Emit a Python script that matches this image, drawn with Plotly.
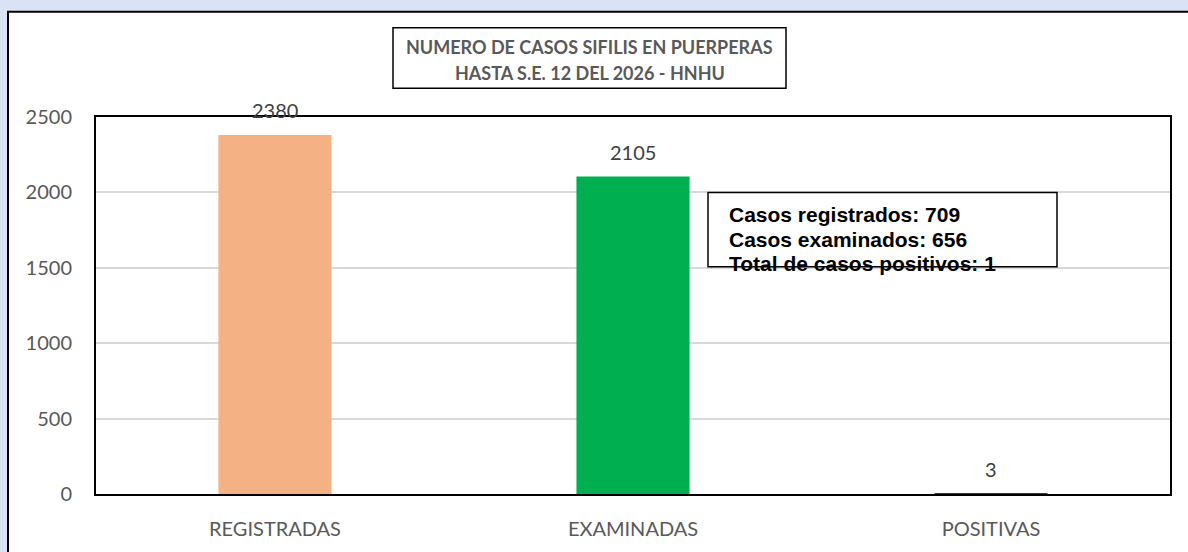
import plotly.graph_objects as go

categories = ["REGISTRADAS", "EXAMINADAS", "POSITIVAS"]
values = [2380, 2105, 3]
bar_colors = ["#F4B183", "#00B050", "#C00000"]
y_ticks = [0, 500, 1000, 1500, 2000, 2500]
title_lines = ["NUMERO DE CASOS SIFILIS EN PUERPERAS", "HASTA S.E. 12 DEL 2026 - HNHU"]
note_lines = ["Casos registrados: 709", "Casos examinados: 656", "Total de casos positivos: 1"]

W, H = 1188, 552
L, R, T, B = 96, 18, 117, 55
pw, ph = W - L - R, H - T - B

def px(x):
    return (x - L) / pw

def py(y):
    return (H - B - y) / ph

fig = go.Figure()
fig.add_trace(go.Bar(
    x=categories, y=values, marker=dict(color=bar_colors, line=dict(width=0)),
    width=0.316, showlegend=False, hoverinfo="x+y",
))

annotations = []
for c, v in zip(categories, values):
    annotations.append(dict(
        x=c, y=v, xref="x", yref="y", text=str(v), showarrow=False,
        yanchor="bottom", yshift=11,
        font=dict(family="Lato", size=20, color="#404040"),
    ))

# title lines
title_y = [46, 73]
for line, yy in zip(title_lines, title_y):
    annotations.append(dict(
        x=px(589.5), y=py(yy), xref="paper", yref="paper", text=f"<b>{line}</b>",
        showarrow=False, xanchor="center", yanchor="middle",
        font=dict(family="Lato", size=18, color="#595959"),
    ))

# note lines
note_y = [215, 240, 265]
for line, yy in zip(note_lines, note_y):
    annotations.append(dict(
        x=px(727), y=py(yy), xref="paper", yref="paper", text=f"<b>{line}</b>",
        showarrow=False, xanchor="left", yanchor="middle",
        font=dict(family="Liberation Sans, Arial", size=21, color="#000000"),
    ))

shapes = [
    # inner white chart area with top/left border
    dict(type="rect", xref="paper", yref="paper", layer="below",
         x0=px(8), x1=px(W + 40), y0=py(H + 40), y1=py(11),
         fillcolor="white", line=dict(color="black", width=2)),
    # title box
    dict(type="rect", xref="paper", yref="paper",
         x0=px(393), x1=px(786), y0=py(88), y1=py(27),
         fillcolor="rgba(0,0,0,0)", line=dict(color="black", width=1.5)),
    # note box
    dict(type="rect", xref="paper", yref="paper",
         x0=px(708), x1=px(1057), y0=py(268), y1=py(193),
         fillcolor="rgba(0,0,0,0)", line=dict(color="black", width=1.5)),
]

fig.update_layout(
    width=W, height=H,
    margin=dict(l=L, r=R, t=T, b=B),
    paper_bgcolor="#DAE3F3",
    plot_bgcolor="rgba(0,0,0,0)",
    bargap=0.684,
    annotations=annotations,
    shapes=shapes,
    xaxis=dict(
        showline=True, linecolor="black", linewidth=2, mirror=True,
        showgrid=False, ticks="", ticklabelstandoff=16,
        tickfont=dict(family="Lato", size=20, color="#595959"),
    ),
    yaxis=dict(
        range=[0, 2500], tickvals=y_ticks,
        showline=True, linecolor="black", linewidth=2, mirror=True,
        showgrid=True, gridcolor="#D9D9D9", gridwidth=1.5, zeroline=False,
        ticks="", ticklabelstandoff=18,
        tickfont=dict(family="Lato", size=20, color="#595959"),
    ),
)

fig.write_html(
    "out.html",
    config={"displayModeBar": False},
    post_script="document.body.style.margin='0';document.body.style.overflow='hidden';",
)
